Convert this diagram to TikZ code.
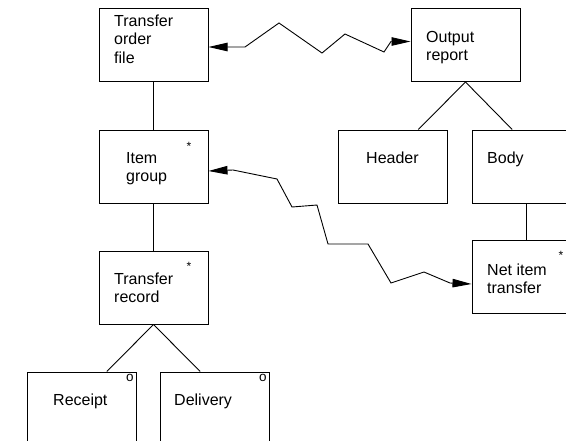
\documentclass[tikz,border=0pt]{standalone}
\usepackage{fontspec}
\setmainfont{Liberation Sans}
\usetikzlibrary{arrows.meta,calc}
\begin{document}
\begin{tikzpicture}[x=1pt,y=-1pt,
  box/.style={draw,line width=1pt,minimum width=109pt,minimum height=73pt,inner sep=0pt},
  lbl/.style={anchor=base west,inner sep=0pt,font=\fontsize{16}{18.7}\selectfont},
  smallmark/.style={inner sep=0pt,font=\fontsize{12}{12}\selectfont},
  omark/.style={inner sep=0pt,font=\fontsize{13.5}{13.5}\selectfont},
  conn/.style={line width=0.9pt},
  arr/.style={line width=0.9pt,{Triangle[length=19pt,width=8.5pt]}-{Triangle[length=19pt,width=8.5pt]}}]
\useasboundingbox (0,0) rectangle (566,440);
\clip (0,0) rectangle (566,440);
% boxes
\node[box] (tof) at (153.5,45) {};
\node[box] (ig)  at (153.5,166.5) {};
\node[box] (tr)  at (153.5,287.5) {};
\node[box] (rec) at (81.5,408.5) {};
\node[box] (del) at (214.5,408.5) {};
\node[box] (out) at (465.5,45) {};
\node[box] (hdr) at (393,166.5) {};
\node[box] (bod) at (526.5,166.5) {};
\node[box] (nit) at (526.5,276.5) {};
% texts
\node[lbl] (tofT) at (114,26) {\begin{tabular}[t]{@{}l@{}}Transfer\\order\\file\end{tabular}};
\node[lbl] (igT)  at (126,163) {\begin{tabular}[t]{@{}l@{}}Item\\group\end{tabular}};
\node[lbl] (trT)  at (114,284) {\begin{tabular}[t]{@{}l@{}}Transfer\\record\end{tabular}};
\node[lbl] (outT) at (426,42) {\begin{tabular}[t]{@{}l@{}}Output\\report\end{tabular}};
\node[lbl] (hdrT) at (366,163) {Header};
\node[lbl] (bodT) at (487,163) {Body};
\node[lbl] (nitT) at (487,275) {\begin{tabular}[t]{@{}l@{}}Net item\\transfer\end{tabular}};
\node[lbl] (recT) at (53,405) {Receipt};
\node[lbl] (delT) at (174,405) {Delivery};
% marks
\node[smallmark] (igS)  at (189,146) {*};
\node[smallmark] (trS)  at (189,266) {*};
\node[smallmark] (nitS) at (561,255) {*};
\node[omark] (recO) at (130,377.5) {o};
\node[omark] (delO) at (263,377.5) {o};
% tree connectors
\draw[conn] (tof.south) -- (ig.north);
\draw[conn] (ig.south) -- (tr.north);
\draw[conn] (tr.south) -- ($(rec.north west)!0.73!(rec.north east)$);
\draw[conn] (tr.south) -- ($(del.north west)!0.37!(del.north east)$);
\draw[conn] (out.south) -- ($(hdr.north west)!0.73!(hdr.north east)$);
\draw[conn] (out.south) -- ($(bod.north west)!0.37!(bod.north east)$);
\draw[conn] (bod.south) -- (nit.north);
% zigzag arrows
\draw[arr] ([yshift=-2pt]tof.east) -- (245,47) -- (279,23) -- (322,53) -- (345,34) -- (384,52) -- (391,41.5) -- ([yshift=3.5pt]out.west);
\draw[arr] ([yshift=-4.5pt]ig.east) -- (233,170) -- (277,179) -- (292,207) -- (317,205) -- (328,244) -- (368,244) -- (391,283) -- (424,272) -- (450,283) -- ([yshift=-7.5pt]nit.west);
\end{tikzpicture}
\end{document}
